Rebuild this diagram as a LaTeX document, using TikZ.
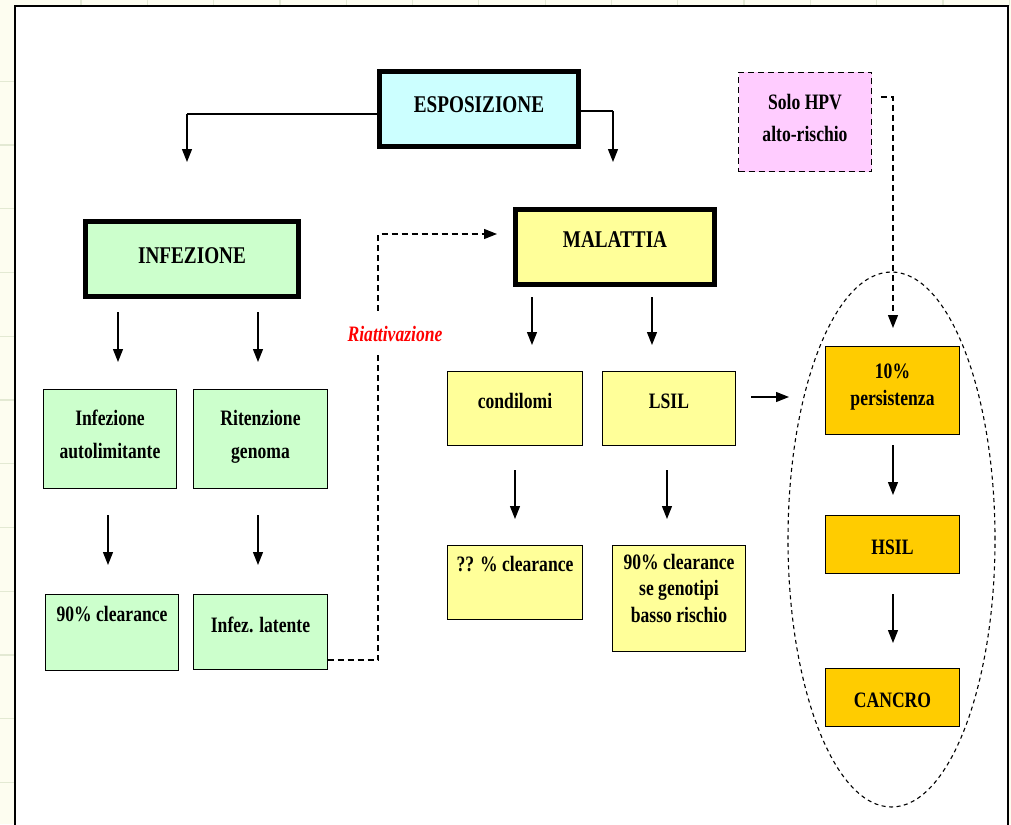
\documentclass[tikz,border=0pt]{standalone}
\usepackage{fontspec}
\setmainfont[FakeStretch=0.8]{Liberation Serif}
\usetikzlibrary{arrows.meta,shapes.geometric}
\definecolor{cream}{HTML}{FDFDF0}
\definecolor{gridc}{HTML}{E3E9D3}
\definecolor{cyanc}{HTML}{CCFFFF}
\definecolor{greenc}{HTML}{CCFFCC}
\definecolor{yellc}{HTML}{FFFF99}
\definecolor{pinkc}{HTML}{FFCCFF}
\definecolor{orc}{HTML}{FFCC00}
\begin{document}
\begin{tikzpicture}[x=1pt,y=-1pt,
  thickbox/.style={draw=black, line width=5pt, inner sep=0pt, outer sep=0pt},
  thinbox/.style={draw=black, line width=1.3pt, inner sep=0pt, outer sep=0pt},
  lbl/.style={font=\fontsize{22}{26}\selectfont\bfseries, anchor=base, inner sep=0pt},
  hdr/.style={font=\fontsize{24}{28}\selectfont\bfseries, anchor=base, inner sep=0pt},
  arr/.style={line width=1.3pt, -{Triangle[width=10pt,length=13pt]}},
  darr/.style={arr, dash pattern=on 6pt off 4pt}]
\useasboundingbox (0,0) rectangle (1011,824);
\fill[cream] (0,0) rectangle (1011,824);
\foreach \i in {0,...,14} \draw[gridc, line width=1.2pt] ({81+66.3*\i},0) -- ({81+66.3*\i},6);
\foreach \j in {0,...,11} \draw[gridc, line width=1.2pt] (0,{81.25+63.75*\j}) -- (15,{81.25+63.75*\j});
\draw[fill=white, line width=1.5pt] (15,6) rectangle (1008,840);

% boxes
\node[thickbox, fill=cyanc, minimum width=199pt, minimum height=75pt] (espo) at (479,109) {};
\node[thickbox, fill=greenc, minimum width=213pt, minimum height=75pt] (infe) at (192,259) {};
\node[thickbox, fill=yellc, minimum width=199pt, minimum height=75pt] (mala) at (615,247) {};
\node[draw=black, line width=1.5pt, dash pattern=on 6pt off 4pt, fill=pinkc, inner sep=0pt, outer sep=0pt, minimum width=133pt, minimum height=99pt] (hpv) at (805,122) {};
\node[thinbox, fill=greenc, minimum width=133pt, minimum height=99pt] (auto) at (110,439) {};
\node[thinbox, fill=greenc, minimum width=134pt, minimum height=99pt] (rite) at (260.5,439) {};
\node[thinbox, fill=greenc, minimum width=133pt, minimum height=76pt] (cl90) at (112,632.5) {};
\node[thinbox, fill=greenc, minimum width=134pt, minimum height=75pt] (late) at (260.5,632) {};
\node[thinbox, fill=yellc, minimum width=135pt, minimum height=74pt] (cond) at (515,408.5) {};
\node[thinbox, fill=yellc, minimum width=133pt, minimum height=74pt] (lsil) at (669,408.5) {};
\node[thinbox, fill=yellc, minimum width=135pt, minimum height=74pt] (clqq) at (515,582.5) {};
\node[thinbox, fill=yellc, minimum width=133pt, minimum height=106pt] (clbr) at (679,598.5) {};
\node[thinbox, fill=orc, minimum width=134pt, minimum height=88pt] (pers) at (892.5,390.5) {};
\node[thinbox, fill=orc, minimum width=134pt, minimum height=58pt] (hsil) at (892.5,544.5) {};
\node[thinbox, fill=orc, minimum width=134pt, minimum height=58pt] (canc) at (892.5,697.5) {};
\node[ellipse, draw=black, line width=1.1pt, dash pattern=on 4pt off 3.5pt, inner sep=0pt, outer sep=0pt, minimum width=207pt, minimum height=535pt] (grp) at (891.5,539.5) {};

% texts
\node[hdr] (tespo) at (479,113) {ESPOSIZIONE};
\node[hdr] (tinfe) at (192,263) {INFEZIONE};
\node[hdr] (tmala) at (615,247) {MALATTIA};
\node[lbl] (thpva) at (805,110) {Solo HPV};
\node[lbl] (thpvb) at (805,141) {alto-rischio};
\node[lbl] (tautoa) at (110,425) {Infezione};
\node[lbl] (tautob) at (110,458) {autolimitante};
\node[lbl] (tritea) at (260.5,425) {Ritenzione};
\node[lbl] (triteb) at (260.5,458) {genoma};
\node[lbl] (tcl90) at (112,621) {90\% clearance};
\node[lbl] (tlate) at (260.5,632) {Infez. latente};
\node[lbl] (tcond) at (515,408) {condilomi};
\node[lbl] (tlsil) at (669,408) {LSIL};
\node[lbl] (tclqq) at (515,571) {?? \% clearance};
\node[lbl] (tclbra) at (679,569) {90\% clearance};
\node[lbl] (tclbrb) at (679,595.5) {se genotipi};
\node[lbl] (tclbrc) at (679,622) {basso rischio};
\node[lbl] (tpersa) at (892.5,378) {10\%};
\node[lbl] (tpersb) at (892.5,405) {persistenza};
\node[lbl] (thsil) at (892.5,554) {HSIL};
\node[lbl] (tcanc) at (892.5,707) {CANCRO};

% free ends
\coordinate (e1) at (187,162);
\coordinate (e2) at (613,162);
\coordinate (i1s) at (118,312); \coordinate (i1e) at (118,362);
\coordinate (i2s) at (258,312); \coordinate (i2e) at (258,362);
\coordinate (a1s) at (108,515); \coordinate (a1e) at (108,565);
\coordinate (a2s) at (258,515); \coordinate (a2e) at (258,565);
\coordinate (m1s) at (532,297); \coordinate (m1e) at (532,345);
\coordinate (m2s) at (652,297); \coordinate (m2e) at (652,345);
\coordinate (c1s) at (515,470); \coordinate (c1e) at (515,519);
\coordinate (c2s) at (667,470); \coordinate (c2e) at (667,519);
\coordinate (ls) at (751,397); \coordinate (le) at (789,397);
\coordinate (p1s) at (893,445); \coordinate (p1e) at (893,495);
\coordinate (p2s) at (893,594); \coordinate (p2e) at (893,643);
\coordinate (rv1) at (378,660); \coordinate (rv2) at (378,234); \coordinate (rv3) at (497,234);
\coordinate (hs) at (881,97); \coordinate (he) at (893,328);

% connectors
\draw[line width=1.3pt] ([yshift=-5pt]espo.west) -- ([yshift=-5pt]espo.west -| e1);
\draw[arr] ([yshift=-5pt]espo.west -| e1) -- (e1);
\draw[line width=1.3pt] ([yshift=-2pt]espo.east) -- ([yshift=-2pt]espo.east -| e2);
\draw[arr] ([yshift=-2pt]espo.east -| e2) -- (e2);
\draw[arr] (i1s) -- (i1e);
\draw[arr] (i2s) -- (i2e);
\draw[arr] (a1s) -- (a1e);
\draw[arr] (a2s) -- (a2e);
\draw[arr] (m1s) -- (m1e);
\draw[arr] (m2s) -- (m2e);
\draw[arr] (c1s) -- (c1e);
\draw[arr] (c2s) -- (c2e);
\draw[arr] (ls) -- (le);
\draw[arr] (p1s) -- (p1e);
\draw[arr] (p2s) -- (p2e);
\draw[darr] ([yshift=-28pt]late.east) -- (rv1) -- (rv2) -- (rv3);
\draw[darr] (hs) -| (he);
\node[fill=white, inner xsep=2pt, inner ysep=14pt, anchor=base, text=red, font=\fontsize{22}{26}\selectfont\bfseries\itshape] (riat) at (395,341) {Riattivazione};
\end{tikzpicture}
\end{document}
